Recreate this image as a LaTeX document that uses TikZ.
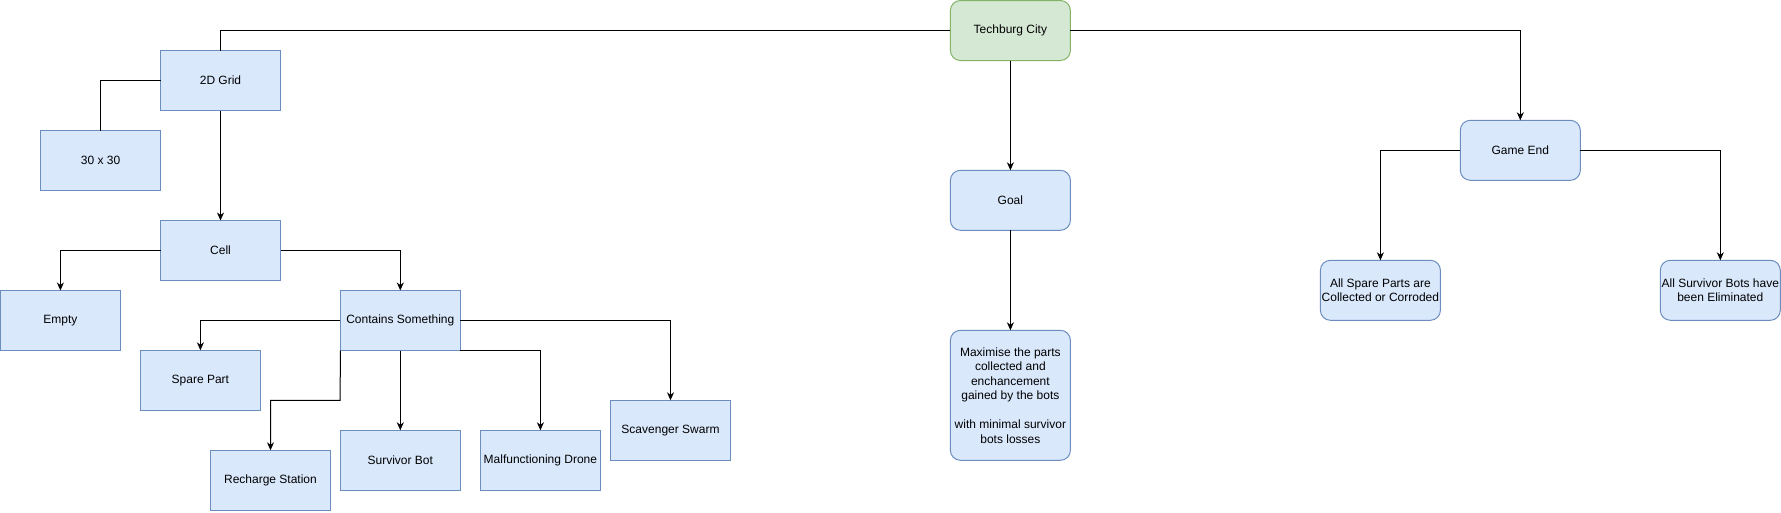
\documentclass[tikz,border=0pt]{standalone}
\usepackage{fontspec}
\setmainfont{Liberation Sans}
\usetikzlibrary{arrows.meta}
\definecolor{bfill}{HTML}{DAE8FC}
\definecolor{bdraw}{HTML}{6C8EBF}
\definecolor{gfill}{HTML}{D5E8D4}
\definecolor{gdraw}{HTML}{82B366}
\tikzset{
  box/.style={draw=bdraw, fill=bfill, line width=1pt, minimum width=120pt, minimum height=60pt,
    inner sep=0pt, outer sep=0pt, align=center, font=\fontsize{12}{14.5}\selectfont},
  rbox/.style={box, rounded corners=10pt},
  gbox/.style={rbox, draw=gdraw, fill=gfill},
  conn/.style={draw=black, line width=1pt},
  arr/.style={conn, -{Stealth[length=8pt,width=7pt,inset=2.5pt]}}
}
\begin{document}
\begin{tikzpicture}[x=1pt,y=-1pt]
\useasboundingbox (0,0) rectangle (1781,512);
% nodes
\node[gbox] (tc) at (1010.4,30.5) {Techburg City};
\node[box] (grid) at (220.5,80.5) {2D Grid};
\node[box] (t30) at (100.6,160.5) {30 x 30};
\node[box] (cell) at (220.5,250.5) {Cell};
\node[box] (empty) at (60.4,320.5) {Empty};
\node[box] (cs) at (400.3,320.5) {Contains Something};
\node[box] (sp) at (200.4,380.3) {Spare Part};
\node[box] (rs) at (270.5,480.3) {Recharge Station};
\node[box] (sb) at (400.3,460.3) {Survivor Bot};
\node[box] (md) at (540.4,460.3) {Malfunctioning Drone};
\node[box] (ss) at (670.5,430.3) {Scavenger Swarm};
\node[rbox] (goal) at (1010.4,200.3) {Goal};
\node[rbox, minimum height=130pt] (max) at (1010.4,395.3) {Maximise the parts\\collected and\\enchancement\\gained by the bots\\[14.5pt]with minimal survivor\\bots losses};
\node[rbox] (ge) at (1520.3,150.3) {Game End};
\node[rbox] (asp) at (1380.4,290.3) {All Spare Parts are\\Collected or Corroded};
\node[rbox] (asb) at (1720.3,290.3) {All Survivor Bots have\\been Eliminated};
% coordinates
\coordinate (rsbend) at (340.2,400.3);
% connectors
\draw[conn] (tc.west) -| (grid.north);
\draw[conn] (grid.west) -| (t30.north);
\draw[arr] (grid.south) -- (cell.north);
\draw[arr] (cell.west) -| (empty.north);
\draw[arr] (cell.east) -| (cs.north);
\draw[arr] (cs.west) -| (sp.north);
\draw[arr] (cs.south west) -- (rsbend) -| (rs.north);
\draw[arr] (cs.south) -- (sb.north);
\draw[arr] (cs.south east) -| (md.north);
\draw[arr] (cs.east) -| (ss.north);
\draw[arr] (tc.south) -- (goal.north);
\draw[arr] (goal.south) -- (max.north);
\draw[arr] (tc.east) -| (ge.north);
\draw[arr] (ge.west) -| (asp.north);
\draw[arr] (ge.east) -| (asb.north);
\end{tikzpicture}
\end{document}
